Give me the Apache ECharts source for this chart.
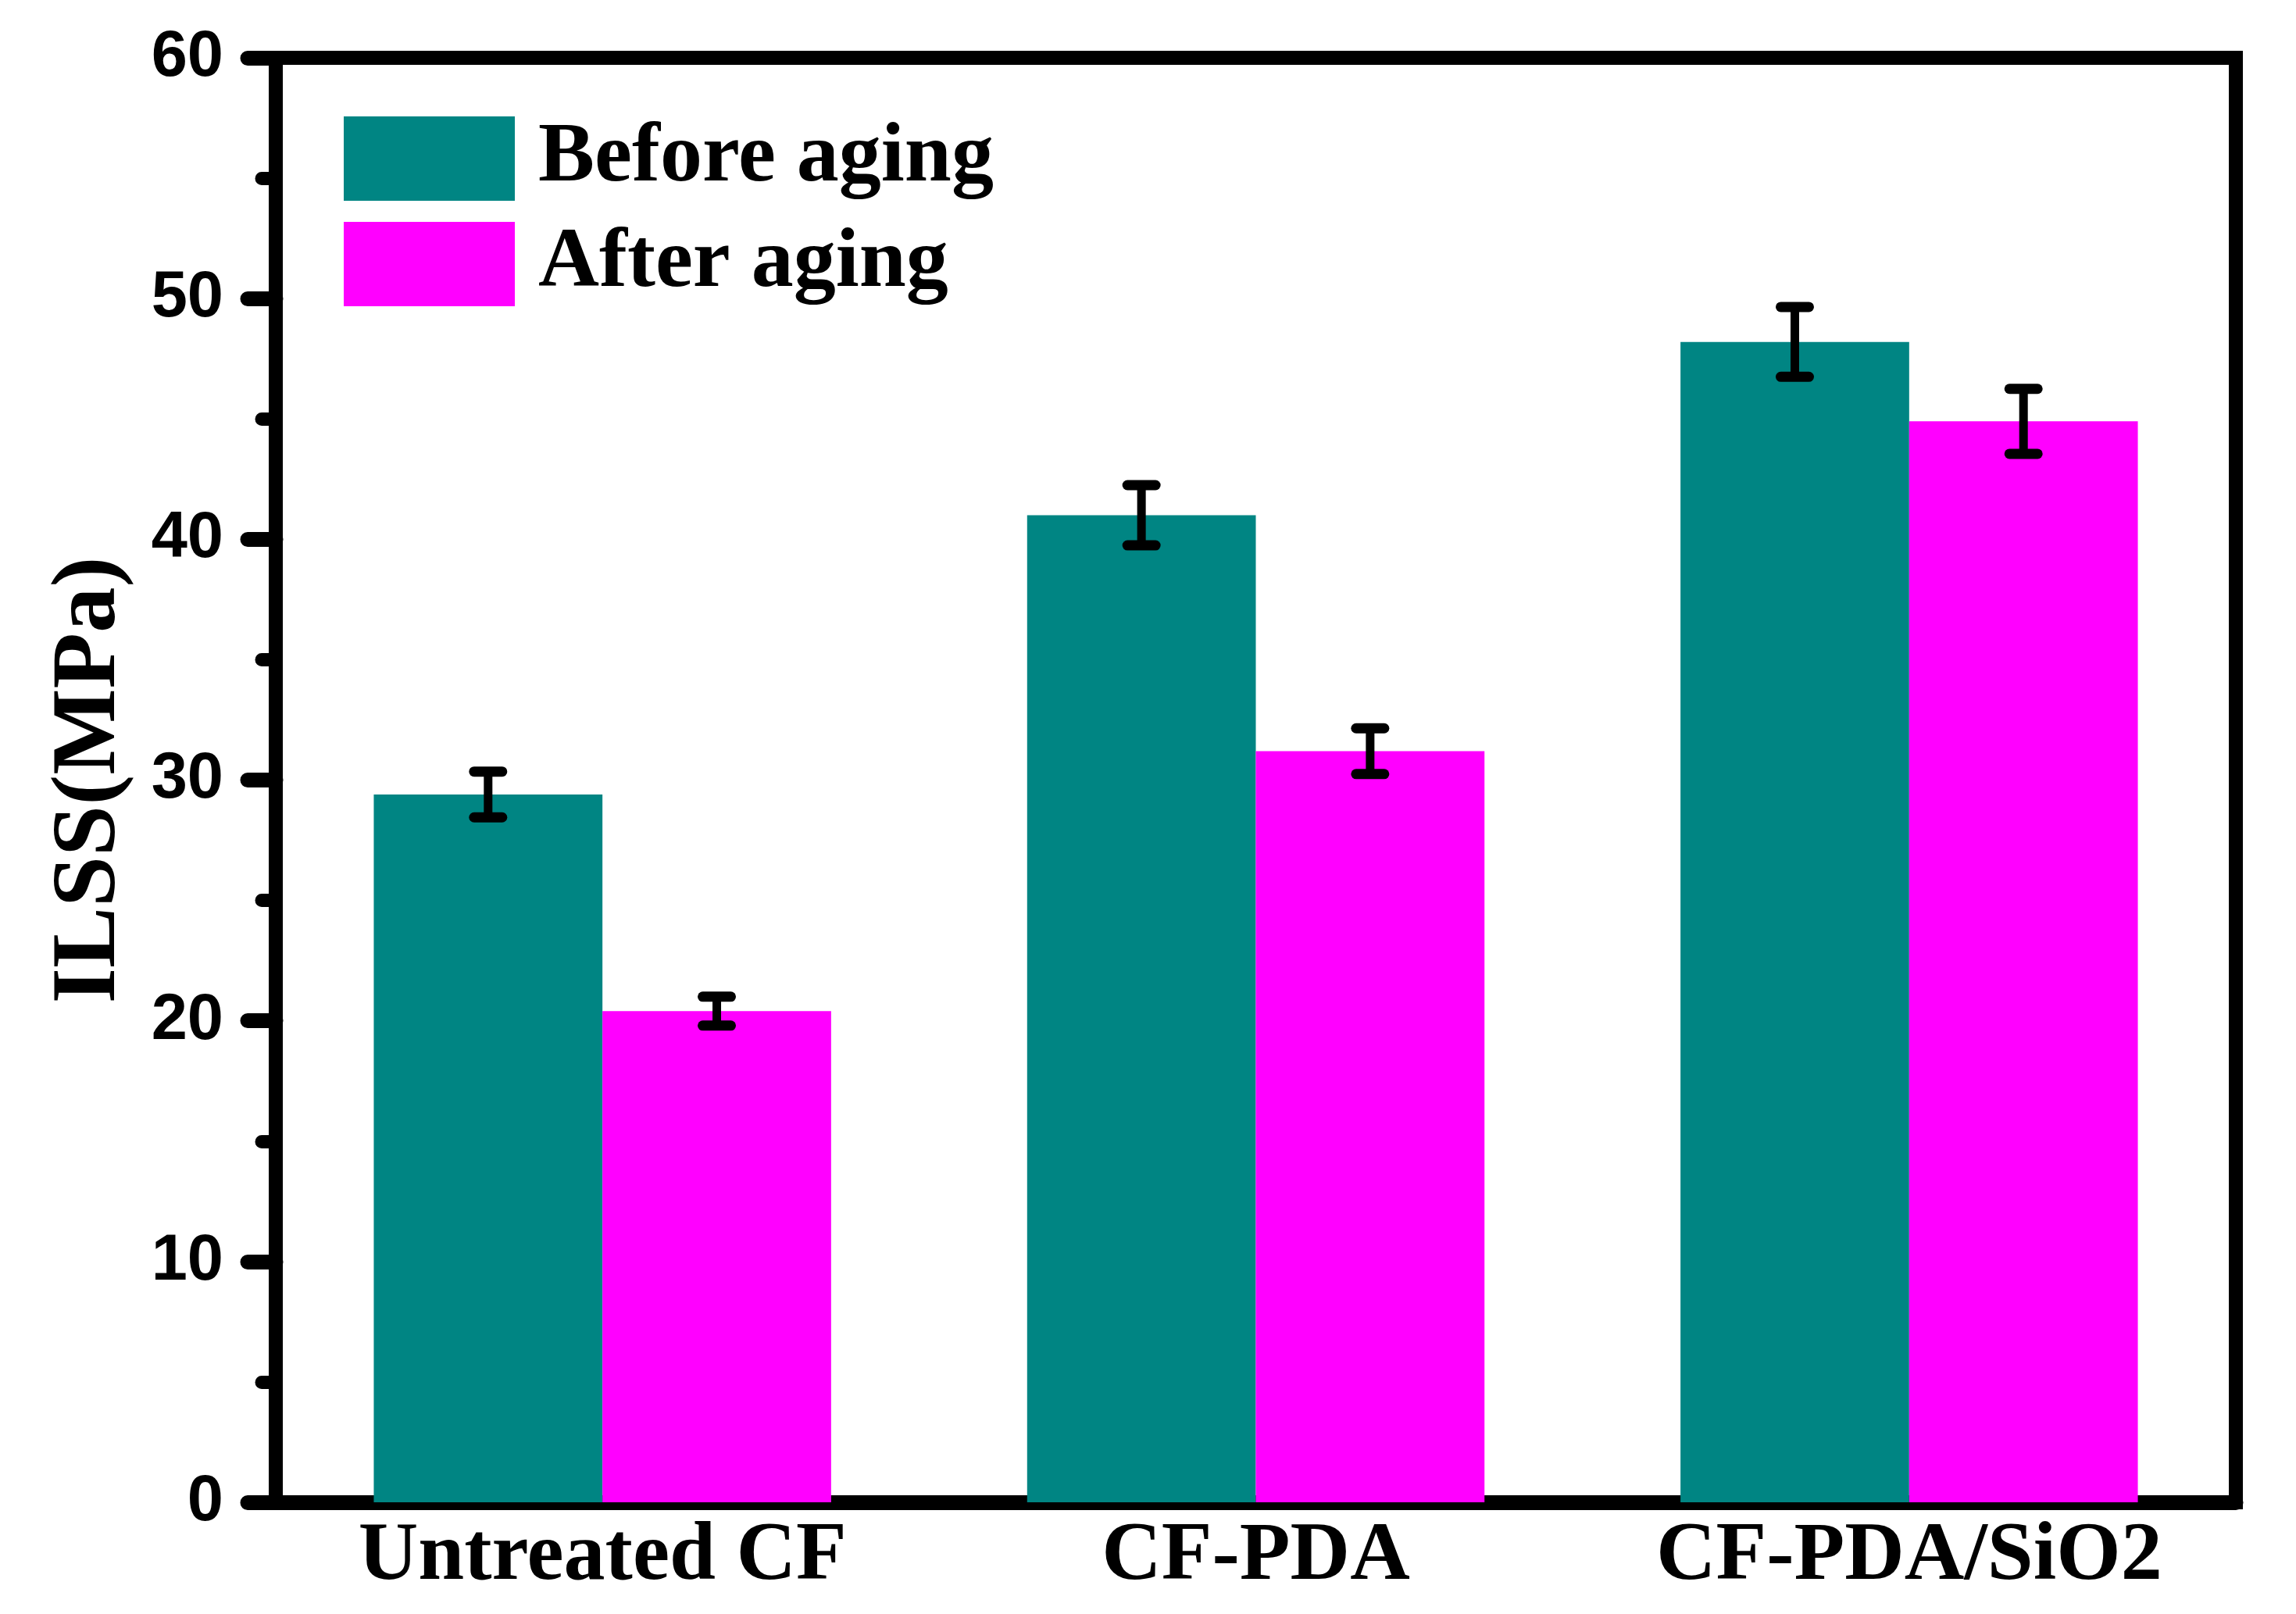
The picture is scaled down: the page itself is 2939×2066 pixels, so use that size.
<!DOCTYPE html>
<html>
<head>
<meta charset="utf-8">
<script src="https://cdn.jsdelivr.net/npm/echarts@6/dist/echarts.min.js"></script>
<style>
html,body{margin:0;padding:0;background:#fff;}
#c{width:2939px;height:2066px;}
</style>
</head>
<body>
<div id="c"></div>
<script>
var categories = ['Untreated CF', 'CF-PDA', 'CF-PDA/SiO2'];
var seriesNames = ['Before aging', 'After aging'];
var beforeAging = [29.4, 41.0, 48.2];
var afterAging = [20.4, 31.2, 44.9];
var beforeErr = [0.95, 1.25, 1.45];
var afterErr = [0.6, 0.95, 1.35];
var yTicks = { min: 0, max: 60, interval: 10 };

var TEAL = '#008583';
var MAGENTA = '#FF00FF';

function errData(vals, errs) {
  return vals.map(function (v, i) { return [i, v, errs[i]]; });
}

function makeErrRender(sign) {
  return function (params, api) {
    var idx = api.value(0), val = api.value(1), err = api.value(2);
    var band = api.size([1, 0])[0];
    var off = band * 0.175 * sign;
    var top = api.coord([idx, val + err]);
    var bot = api.coord([idx, val - err]);
    var x = top[0] + off;
    var capHalf = 18;
    var st = { stroke: '#000', lineWidth: 11, lineCap: 'round' };
    var cs = { stroke: '#000', lineWidth: 13, lineCap: 'round' };
    return {
      type: 'group',
      children: [
        { type: 'line', shape: { x1: x, y1: top[1], x2: x, y2: bot[1] }, style: st },
        { type: 'line', shape: { x1: x - capHalf, y1: top[1], x2: x + capHalf, y2: top[1] }, style: cs },
        { type: 'line', shape: { x1: x - capHalf, y1: bot[1], x2: x + capHalf, y2: bot[1] }, style: cs }
      ]
    };
  };
}

var chart = echarts.init(document.getElementById('c'), null, { renderer: 'canvas' });
chart.setOption({
  backgroundColor: '#fff',
  animation: false,
  grid: {
    left: 353, right: 77, top: 74, bottom: 143,
    show: true, borderColor: '#000', borderWidth: 18, backgroundColor: 'transparent'
  },
  legend: {
    data: seriesNames,
    orient: 'vertical',
    left: 435, top: 144,
    itemWidth: 219, itemHeight: 108, itemGap: 27,
    icon: 'rect',
    textStyle: {
      fontFamily: 'Liberation Serif', fontWeight: 'bold', fontSize: 108, color: '#000',
      padding: [0, 0, 0, 25]
    }
  },
  xAxis: {
    type: 'category',
    data: categories,
    axisLine: { lineStyle: { color: '#000', width: 19 } },
    axisTick: { show: false },
    axisLabel: {
      interval: 0, hideOverlap: false,
      fontFamily: 'Liberation Serif', fontWeight: 'bold', fontSize: 106, color: '#000', margin: 18
    },
    splitLine: { show: false }
  },
  yAxis: {
    type: 'value',
    min: yTicks.min, max: yTicks.max, interval: yTicks.interval,
    name: 'ILSS(MPa)',
    nameLocation: 'middle',
    nameGap: 179,
    nameTextStyle: { fontFamily: 'Liberation Serif', fontWeight: 'bold', fontSize: 117, color: '#000' },
    axisLine: { show: true, lineStyle: { color: '#000', width: 18 } },
    axisTick: { show: true, length: 36, lineStyle: { color: '#000', width: 19, cap: 'round' } },
    minorTick: { show: true, splitNumber: 2, length: 18, lineStyle: { color: '#000', width: 17, cap: 'round' } },
    axisLabel: { fontFamily: 'Liberation Sans', fontWeight: 'bold', fontSize: 83, color: '#000', margin: 67 },
    splitLine: { show: false },
    minorSplitLine: { show: false }
  },
  series: [
    {
      name: seriesNames[0], type: 'bar', data: beforeAging,
      barGap: '0%', barCategoryGap: '30%',
      itemStyle: { color: TEAL }
    },
    {
      name: seriesNames[1], type: 'bar', data: afterAging,
      barGap: '0%', barCategoryGap: '30%',
      itemStyle: { color: MAGENTA }
    },
    {
      name: 'errBefore', type: 'custom', data: errData(beforeAging, beforeErr),
      renderItem: makeErrRender(-1), encode: { x: 0, y: 1 }, z: 10, silent: true
    },
    {
      name: 'errAfter', type: 'custom', data: errData(afterAging, afterErr),
      renderItem: makeErrRender(1), encode: { x: 0, y: 1 }, z: 10, silent: true
    }
  ]
});
</script>
</body>
</html>
